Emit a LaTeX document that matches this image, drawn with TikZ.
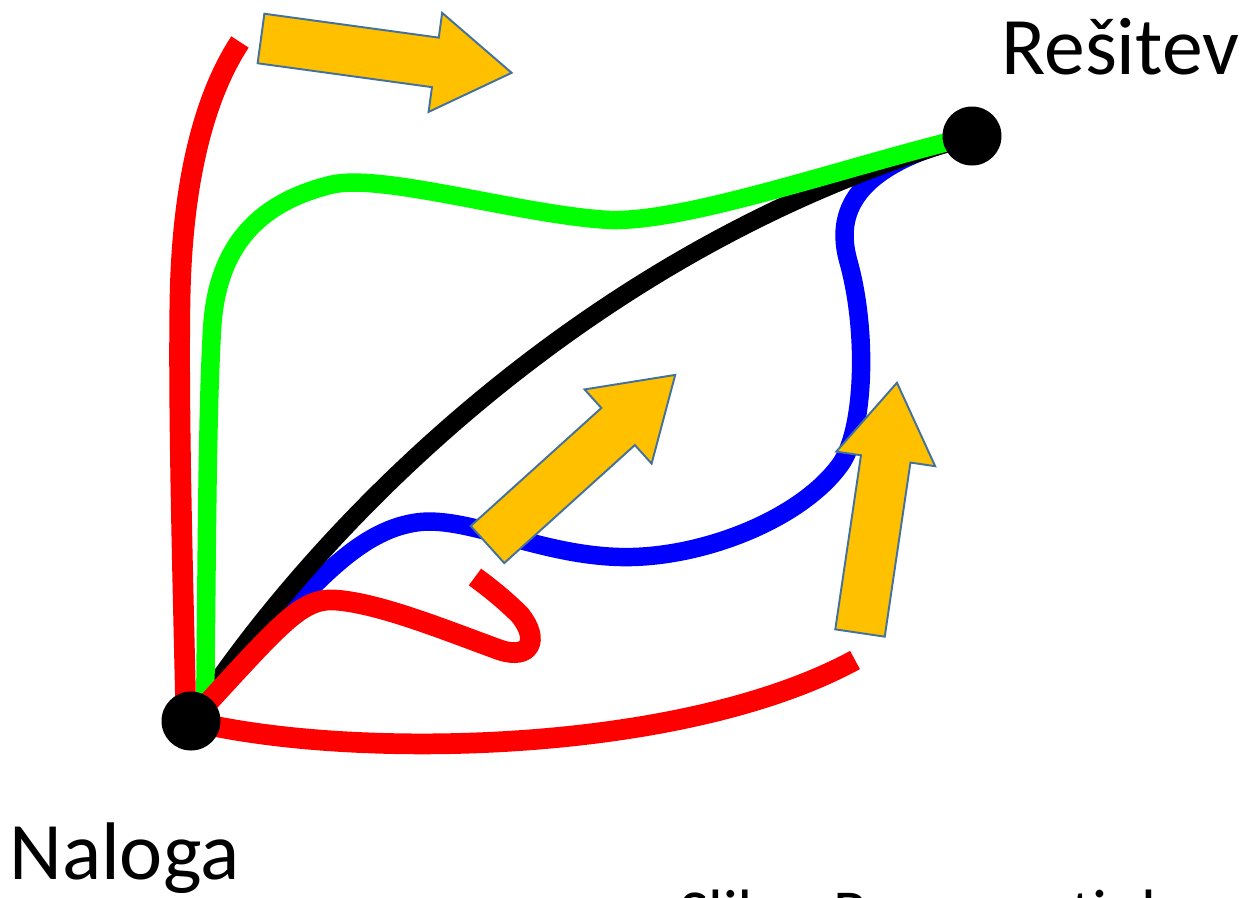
\documentclass[tikz,border=0pt]{standalone}
\usepackage{fontspec}
\setmainfont{Carlito}
\usetikzlibrary{calc,backgrounds}
\definecolor{arrowfill}{HTML}{FFC000}
\definecolor{arrowedge}{HTML}{41719C}
\begin{document}
\begin{tikzpicture}[x=0.02cm, y=-0.02cm,
  curve/.style={line width=10.5pt},
  redcurve/.style={line width=11.8pt, red},
  dotnode/.style={circle, fill=black, minimum size=1.18cm, inner sep=0pt},
  lbl/.style={inner sep=0pt, font=\fontsize{46.5}{56}\selectfont},
  caplbl/.style={inner sep=0pt, font=\fontsize{36.5}{44}\selectfont},
  arrowbody/.style={fill=arrowfill, draw=arrowedge, line width=1.1pt, line join=miter},
  oarrow/.pic={\path[arrowbody] (0,-25) -- (176,-25) -- (176,-50) -- (253,0) -- (176,50) -- (176,25) -- (0,25) -- cycle;}
]
\useasboundingbox (0,0) rectangle (1260,897);
\clip (0,0) rectangle (1260,897);

% end points
\node[dotnode] (naloga) at (191,721) {};
\node[dotnode] (resitev) at (972,136) {};
\coordinate (redtop) at (240,42);
\coordinate (redend) at (475,577);
\coordinate (redbot) at (855,660);

\begin{scope}[on background layer]
  % blue path
  \draw[curve, blue] (naloga.center) .. controls (300,600) and (350,530) .. (420,522)
    .. controls (470,517) and (540,555) .. (620,557)
    .. controls (700,559) and (800,520) .. (840,465)
    .. controls (865,431) and (868,330) .. (848,260)
    .. controls (836,215) and (850,165) .. (resitev.center);
  % black path
  \draw[curve, black] (naloga.center) .. controls (320,520) and (600,240) .. (resitev.center);
  % green path
  \draw[curve, green] ($(naloga.center)+(14,0)$) .. controls (207,550) and (207,420) .. (212,330)
    .. controls (216,255) and (250,205) .. (330,185)
    .. controls (380,172) and (520,215) .. (610,220)
    .. controls (690,222) and (850,165) .. (resitev.center);
  % red paths
  \draw[redcurve] (redtop) .. controls (205,95) and (182,180) .. (180,300)
    .. controls (178,420) and (184,620) .. ($(naloga.center)+(-5,0)$);
  \draw[redcurve] (naloga.center) .. controls (280,625) and (300,598) .. (335,600)
    .. controls (380,603) and (450,632) .. (500,650)
    .. controls (530,660) and (540,640) .. (520,615)
    .. controls (505,600) and (490,588) .. (redend);
  \draw[redcurve] (naloga.center) .. controls (350,760) and (680,755) .. (redbot);
\end{scope}

% orange arrows
\pic[rotate=-7.8] at (261,38.5) {oarrow};
\pic[rotate=42.1] at (487.5,544.5) {oarrow};
\pic[rotate=81.6] at (860,633) {oarrow};

% labels
\node[lbl, anchor=base west] (nalogalbl) at (9,879) {Naloga};
\node[lbl, anchor=base west] (resitevlbl) at (1001,74) {Rešitev};
\node[caplbl, anchor=base west] (caption) at (679,934) {Slika: Razne poti do rešitve};
\end{tikzpicture}
\end{document}
